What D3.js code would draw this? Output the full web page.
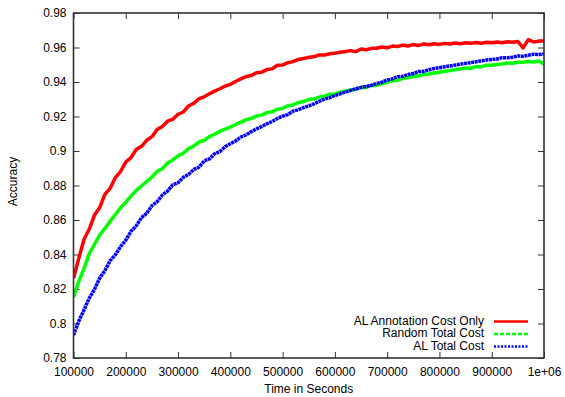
<!DOCTYPE html>
<html>
<head>
<meta charset="utf-8">
<script src="https://cdn.jsdelivr.net/npm/d3@7"></script>
<style>
  html, body { margin: 0; padding: 0; background: #fff; }
  svg { display: block; }
  text { font-family: "Liberation Sans", Arial, Helvetica, sans-serif; fill: #000; }
</style>
</head>
<body>
<svg id="chart" width="565" height="397"></svg>
<script>
// ---- data ----
const times = d3.range(100000, 1000001, 10000); // x sample times (91 points)

const alAnnotation = [
  0.8262,0.8376,0.8487,0.8546,0.8627,0.8672,0.8748,0.8783,0.8846,0.8881,
  0.8936,0.8962,0.9009,0.9027,0.9062,0.9083,0.9124,0.9142,0.9173,0.9184,
  0.9213,0.9226,0.9261,0.9276,0.9303,0.9314,0.9332,0.9347,0.9361,0.9376,
  0.9386,0.9403,0.9418,0.9431,0.9438,0.9454,0.9457,0.9472,0.9476,0.9497,
  0.9498,0.9512,0.9518,0.9531,0.9536,0.9543,0.9546,0.9557,0.9556,0.9564,
  0.9566,0.9573,0.9577,0.9582,0.9576,0.9591,0.9587,0.9595,0.9596,0.9603,
  0.9598,0.9608,0.9606,0.9614,0.9609,0.9617,0.9612,0.9620,0.9616,0.9622,
  0.9618,0.9624,0.9620,0.9626,0.9622,0.9627,0.9624,0.9629,0.9625,0.9630,
  0.9627,0.9632,0.9628,0.9633,0.9630,0.9635,0.9598,0.9646,0.9632,0.9637,
  0.9638
];

const randomTotal = [
  0.8152,0.8243,0.8318,0.8404,0.8458,0.8513,0.8551,0.8592,0.8632,0.8671,
  0.8703,0.8738,0.8772,0.8797,0.8823,0.8848,0.8882,0.8897,0.8931,0.8948,
  0.8972,0.8987,0.9014,0.9028,0.9052,0.9061,0.9083,0.9097,0.9114,0.9127,
  0.9138,0.9154,0.9166,0.9182,0.9188,0.9203,0.9208,0.9222,0.9227,0.9242,
  0.9247,0.9262,0.9267,0.9281,0.9287,0.9298,0.9301,0.9313,0.9318,0.9329,
  0.9331,0.9341,0.9347,0.9354,0.9358,0.9367,0.9369,0.9381,0.9380,0.9391,
  0.9398,0.9408,0.9409,0.9421,0.9426,0.9432,0.9436,0.9443,0.9446,0.9452,
  0.9457,0.9462,0.9466,0.9472,0.9476,0.9481,0.9480,0.9489,0.9489,0.9497,
  0.9497,0.9502,0.9505,0.9510,0.9509,0.9514,0.9514,0.9519,0.9516,0.9522,
  0.9505
];

const alTotal = [
  0.7932,0.8013,0.8078,0.8146,0.8197,0.8263,0.8306,0.8364,0.8398,0.8446,
  0.8483,0.8534,0.8566,0.8614,0.8638,0.8683,0.8706,0.8745,0.8768,0.8804,
  0.8816,0.8847,0.8864,0.8893,0.8906,0.8943,0.8954,0.8984,0.8997,0.9024,
  0.9042,0.9058,0.9081,0.9093,0.9112,0.9128,0.9142,0.9158,0.9171,0.9188,
  0.9202,0.9211,0.9231,0.9239,0.9252,0.9261,0.9273,0.9288,0.9301,0.9309,
  0.9322,0.9331,0.9342,0.9351,0.9361,0.9369,0.9374,0.9381,0.9392,0.9399,
  0.9412,0.9418,0.9431,0.9432,0.9443,0.9449,0.9461,0.9462,0.9471,0.9478,
  0.9483,0.9488,0.9493,0.9498,0.9504,0.9508,0.9512,0.9518,0.9522,0.9528,
  0.9531,0.9533,0.9541,0.9540,0.9544,0.9551,0.9549,0.9555,0.9561,0.9559,
  0.9563
];

const seriesNames = ["AL Annotation Cost Only", "Random Total Cost", "AL Total Cost"];
const seriesColors = ["#ff0000", "#00ff00", "#0000ff"];
const seriesDash = [null, "4,2", "2,1.5"];
const xTickValues = [100000,200000,300000,400000,500000,600000,700000,800000,900000,1000000];
const xTickLabels = ["100000","200000","300000","400000","500000","600000","700000","800000","900000","1e+06"];
const yTickValues = [0.78,0.80,0.82,0.84,0.86,0.88,0.90,0.92,0.94,0.96,0.98];
const yTickLabels = ["0.78","0.8","0.82","0.84","0.86","0.88","0.9","0.92","0.94","0.96","0.98"];
const xTitle = "Time in Seconds";
const yTitle = "Accuracy";

// ---- layout ----
const L = 73.5, R = 544, T = 13, B = 358;
const svg = d3.select("#chart");
const x = d3.scaleLinear().domain([100000, 1000000]).range([L, R]);
const y = d3.scaleLinear().domain([0.78, 0.98]).range([B, T]);

const axisColor = "#333";
const tickLen = 6;

const xAxis = d3.axisBottom(x).tickValues(xTickValues)
  .tickFormat((d, i) => xTickLabels[i]).tickSizeInner(-tickLen).tickSizeOuter(0).tickPadding(12);
const yAxis = d3.axisLeft(y).tickValues(yTickValues)
  .tickFormat((d, i) => yTickLabels[i]).tickSizeInner(-tickLen).tickSizeOuter(0).tickPadding(12);
const xTop = d3.axisTop(x).tickValues(xTickValues).tickFormat("").tickSizeInner(-tickLen).tickSizeOuter(0);
const yRight = d3.axisRight(y).tickValues(yTickValues).tickFormat("").tickSizeInner(-tickLen).tickSizeOuter(0);

function style(g) {
  g.select(".domain").remove();
  g.selectAll(".tick line").attr("stroke", axisColor).attr("stroke-width", 1);
  g.selectAll(".tick text").attr("font-size", 12).attr("fill", "#000")
    .attr("font-family", "'Liberation Sans', Arial, sans-serif");
}
svg.append("g").attr("transform", `translate(0,${B})`).call(xAxis).call(style)
  .selectAll(".tick text").attr("dy", "0.71em").attr("y", 9);
svg.append("g").attr("transform", `translate(${L},0)`).call(yAxis).call(style)
  .selectAll(".tick text").attr("x", -7);
svg.append("g").attr("transform", `translate(0,${T})`).call(xTop).call(style);
svg.append("g").attr("transform", `translate(${R},0)`).call(yRight).call(style);

// Lines
const line = d3.line().x((d, i) => x(times[i])).y(d => y(d));
const seriesData = [alAnnotation, randomTotal, alTotal];
const clipId = "plotclip";
svg.append("clipPath").attr("id", clipId).append("rect")
  .attr("x", L).attr("y", T).attr("width", R - L).attr("height", B - T);
const plotG = svg.append("g").attr("clip-path", `url(#${clipId})`);
[1, 2, 0].forEach(k => {
  plotG.append("path").datum(seriesData[k])
    .attr("d", line)
    .attr("fill", "none")
    .attr("stroke", seriesColors[k])
    .attr("stroke-width", 3.5)
    .attr("stroke-linejoin", "round")
    .attr("stroke-dasharray", k === 2 ? "3,0.6" : null);
});

// Frame
svg.append("rect").attr("x", L).attr("y", T).attr("width", R - L).attr("height", B - T)
  .attr("fill", "none").attr("stroke", axisColor).attr("stroke-width", 1.6);

// Titles
svg.append("text").attr("x", (L + R) / 2).attr("y", 390).attr("text-anchor", "middle")
  .attr("dominant-baseline", "middle").attr("font-size", 12).text(xTitle);
svg.append("text").attr("transform", `translate(14,${(T + B) / 2 - 4}) rotate(-90)`)
  .attr("text-anchor", "middle").attr("dominant-baseline", "middle").attr("font-size", 12).text(yTitle);

// Legend
const legY = [321.5, 334, 346.5];
seriesNames.forEach((name, i) => {
  svg.append("text").attr("x", 484).attr("y", legY[i]).attr("text-anchor", "end")
    .attr("dominant-baseline", "middle").attr("font-size", 12).text(name);
  svg.append("line").attr("x1", 494).attr("x2", 528).attr("y1", legY[i]).attr("y2", legY[i])
    .attr("stroke", seriesColors[i]).attr("stroke-width", 2.5)
    .attr("stroke-dasharray", seriesDash[i]);
});
</script>
</body>
</html>
